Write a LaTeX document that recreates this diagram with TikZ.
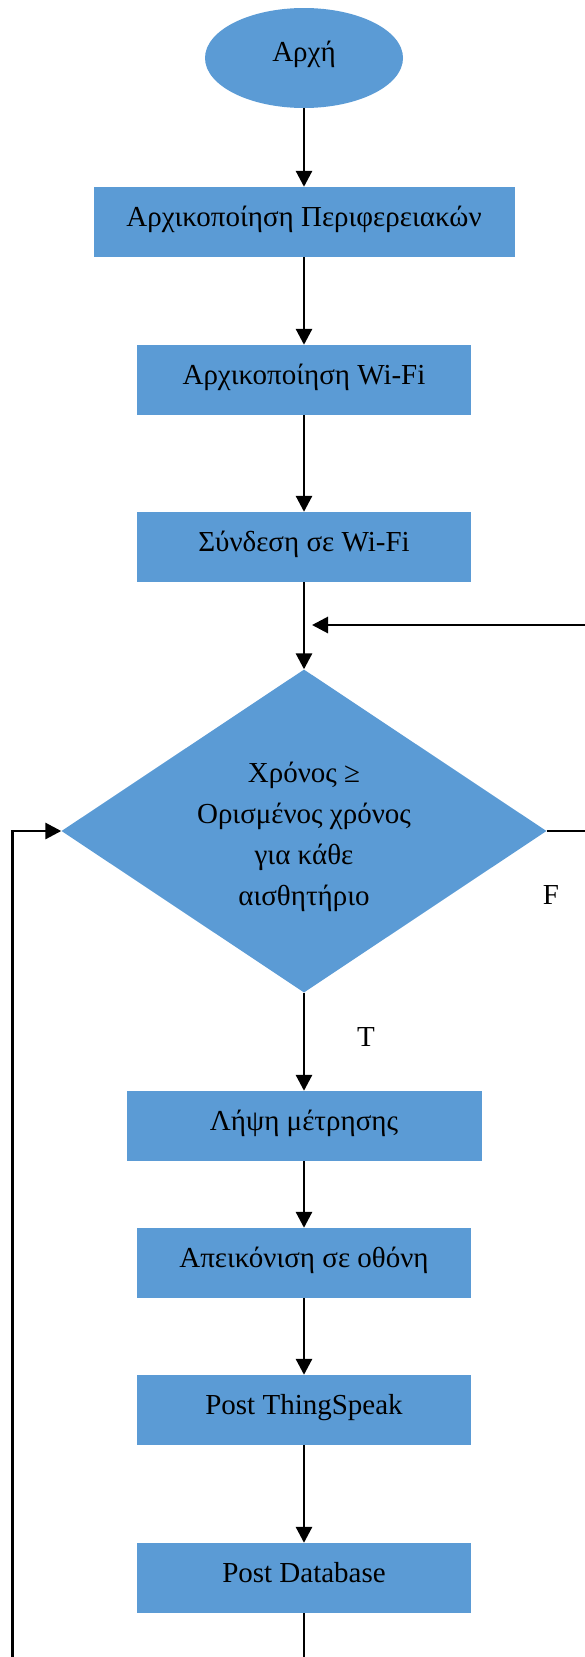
\documentclass[tikz,border=0pt]{standalone}
\usepackage{fontspec}
\setmainfont{Liberation Serif}
\usetikzlibrary{shapes.geometric, arrows.meta}

\begin{document}
\begin{tikzpicture}[x=1pt, y=-1pt,
    block/.style={rectangle, fill=boxColour, minimum height=70pt, inner sep=0pt,
        text height=20pt, text depth=12pt, font=\fontsize{29}{35}\selectfont},
    flow/.style={line width=2.9pt, -{Triangle[width=16pt,length=16pt]}},
    plain/.style={line width=2.9pt}]
    % Define colours
    \definecolor{boxColour}{HTML}{5B9BD5}

    % Define page size
    \def\pageW{585}
    \def\pageH{1657}
    \useasboundingbox (0,0) rectangle (\pageW,\pageH);

    % Start
    \node[ellipse, fill=boxColour, minimum width=198pt, minimum height=100pt, inner sep=0pt,
        text height=20pt, text depth=14pt, font=\fontsize{29}{35}\selectfont] (start) at (304,58) {Αρχή};

    % Set-up steps
    \node[block, minimum width=421pt] (periph) at (304,222) {Αρχικοποίηση Περιφερειακών};
    \node[block, minimum width=334pt] (wifi) at (304,380) {Αρχικοποίηση Wi-Fi};
    \node[block, minimum width=334pt] (connect) at (304,547) {Σύνδεση σε Wi-Fi};

    % Decision
    \node[diamond, fill=boxColour, minimum width=485pt, minimum height=323pt, inner sep=0pt,
        label={[align=center, font=\fontsize{29}{41}\selectfont, yshift=-6pt]center:{Χρόνος ≥\\Ορισμένος χρόνος\\για κάθε\\αισθητήριο}}] (check) at (304,831) {};
    \node[font=\fontsize{29}{35}\selectfont] (lblF) at (551,895) {F};
    \node[font=\fontsize{29}{35}\selectfont] (lblT) at (366,1037) {T};

    % Measuring steps
    \node[block, minimum width=355pt] (measure) at (304,1126) {Λήψη μέτρησης};
    \node[block, minimum width=334pt] (display) at (304,1263) {Απεικόνιση σε οθόνη};
    \node[block, minimum width=334pt] (thing) at (304,1410) {Post ThingSpeak};
    \node[block, minimum width=334pt] (database) at (304,1578) {Post Database};

    % Main flow
    \draw[flow] (start.south) -- (periph.north);
    \draw[flow] (periph.south) -- (wifi.north);
    \draw[flow] (wifi.south) -- (connect.north);
    \draw[flow] (connect.south) -- (check.north);
    \draw[flow] (check.south) -- (measure.north);
    \draw[flow] (measure.south) -- (display.north);
    \draw[flow] (display.south) -- (thing.north);
    \draw[flow] (thing.south) -- (database.north);

    % False branch (leaves the page on the right)
    \coordinate (fOut) at (\pageW,831);
    \coordinate (fBack) at (\pageW,625);
    \coordinate (fIn) at (312,625);
    \draw[plain] (check.east) -- (fOut);
    \draw[flow] (fBack) -- (fIn);

    % Loop back (leaves the page at the bottom)
    \coordinate (loopEnd) at (304,\pageH);
    \coordinate (loopUp) at (12.7,\pageH);
    \coordinate (loopCorner) at (12.7,831);
    \draw[plain] (database.south) -- (loopEnd);
    \draw[flow] (loopUp) -- (loopCorner) -- (check.west);

\end{tikzpicture}
\end{document}
